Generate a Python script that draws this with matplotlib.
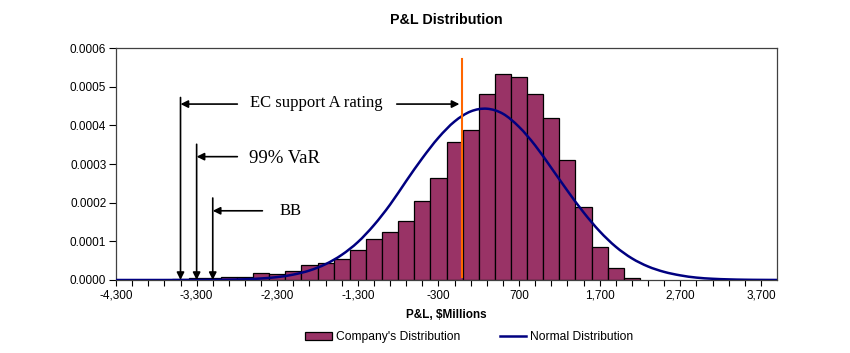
import numpy as np
import matplotlib
matplotlib.use('Agg')
import matplotlib.pyplot as plt
from matplotlib.ticker import FixedLocator, FormatStrFormatter
from matplotlib.patches import Patch, PathPatch
from matplotlib.path import Path
from matplotlib.lines import Line2D

# histogram bins (centre of each 200-wide bin), density in units of 1e-4
bin_centers = [-3500, -3300, -3100, -2900, -2700, -2500, -2300, -2100, -1900,
               -1700, -1500, -1300, -1100, -900, -700, -500, -300, -100,
               100, 300, 500, 700, 900, 1100, 1300, 1500, 1700, 1900, 2100]
company = [0.02, 0.05, 0.05, 0.08, 0.08, 0.17, 0.16, 0.23, 0.39,
           0.45, 0.54, 0.77, 1.05, 1.24, 1.53, 2.05, 2.63, 3.57,
           3.88, 4.80, 5.32, 5.25, 4.80, 4.19, 3.11, 1.90, 0.86, 0.30, 0.05]

# normal curve read at category points, units of 1e-4
normal_x = [-4300, -4100, -3900, -3700, -3500, -3300, -3100, -2900, -2700,
            -2500, -2300, -2100, -1900, -1700, -1500, -1300, -1100, -900,
            -700, -500, -300, -100, 100, 300, 500, 700, 900, 1100, 1300,
            1500, 1700, 1900, 2100, 2300, 2500, 2700, 2900, 3100, 3300,
            3500, 3700, 3900]
normal = [0, 0, 0, 0, 0.001, 0.002, 0.004, 0.009, 0.019,
          0.04, 0.075, 0.14, 0.245, 0.41, 0.65, 0.98, 1.42, 1.95,
          2.56, 3.15, 3.68, 4.10, 4.36, 4.43, 4.30, 3.96, 3.48, 2.90, 2.31,
          1.75, 1.26, 0.86, 0.56, 0.35, 0.21, 0.12, 0.062, 0.032, 0.016,
          0.007, 0.003, 0.001]

# markers: (x position, top of vertical line, label)
markers_x = [-3500, -3300, -3100]
markers_top = [4.72, 3.51, 2.12]
marker_labels = ['EC support A rating', '99% VaR', 'BB']
orange_x = -10

x_ticks = [-4300, -3300, -2300, -1300, -300, 700, 1700, 2700, 3700]
x_ticklabels = ['-4,300', '-3,300', '-2,300', '-1,300', '-300', '700',
                '1,700', '2,700', '3,700']

sc = 1e-4
fig = plt.figure(figsize=(8.5, 3.53), dpi=100)
ax = fig.add_axes([0.1365, 0.2068, 0.7776, 0.6572])

ax.bar(bin_centers, np.array(company) * sc, width=200, color='#993366',
       edgecolor='black', linewidth=0.9, zorder=2)

# smoothed line like Excel: cubic bezier segments through the read points
px = np.array(normal_x, dtype=float)
py = np.array(normal) * sc
verts = [(px[0], py[0])]
codes = [Path.MOVETO]
n = len(px)
for i in range(n - 1):
    p0 = i - 1 if i > 0 else i
    p3 = i + 2 if i + 2 < n else i + 1
    c1 = (px[i] + (px[i + 1] - px[p0]) / 6, py[i] + (py[i + 1] - py[p0]) / 6)
    c2 = (px[i + 1] - (px[p3] - px[i]) / 6, py[i + 1] - (py[p3] - py[i]) / 6)
    verts += [c1, c2, (px[i + 1], py[i + 1])]
    codes += [Path.CURVE4] * 3
ax.add_patch(PathPatch(Path(verts, codes), facecolor='none',
                       edgecolor='#000080', lw=1.8, zorder=3))

ax.plot([orange_x, orange_x], [0.07 * sc, 5.72 * sc], color='#FF6600',
        lw=1.5, zorder=4)

ax.set_xlim(-4300, 3900)
ax.set_ylim(0, 0.0006)
ax.xaxis.set_major_locator(FixedLocator(x_ticks))
ax.set_xticklabels(x_ticklabels)
ax.xaxis.set_minor_locator(FixedLocator(list(range(-4300, 3900, 200))))
ax.set_yticks([i * sc for i in range(7)])
ax.yaxis.set_major_formatter(FormatStrFormatter('%.4f'))
ax.tick_params(axis='both', which='both', direction='out', length=4,
               width=0.8, labelsize=8.5, pad=3)
ax.tick_params(axis='y', length=5, pad=2)
ax.tick_params(axis='x', which='major', pad=3)
for s in ax.spines.values():
    s.set_linewidth(0.9)
    s.set_color('#404040')

# vertical arrows down to the axis
for x, top in zip(markers_x, markers_top):
    ax.annotate('', xy=(x, 0.0), xytext=(x, top * sc),
                arrowprops=dict(arrowstyle='-|>', color='black', lw=1.2,
                                mutation_scale=11, shrinkA=0, shrinkB=0),
                zorder=5)

serif = 'Liberation Serif'
# EC support A rating
ax.annotate('', xy=(markers_x[0], 4.55 * sc), xytext=(-2795, 4.55 * sc),
            arrowprops=dict(arrowstyle='-|>', color='black', lw=1.2,
                            mutation_scale=11, shrinkA=0, shrinkB=0))
ax.annotate('', xy=(-40, 4.55 * sc), xytext=(-817, 4.55 * sc),
            arrowprops=dict(arrowstyle='-|>', color='black', lw=1.2,
                            mutation_scale=11, shrinkA=0, shrinkB=0))
ax.text(-1820, 4.57 * sc, marker_labels[0], family=serif, fontsize=12,
        ha='center', va='center')
# 99% VaR
ax.annotate('', xy=(markers_x[1], 3.19 * sc), xytext=(-2795, 3.19 * sc),
            arrowprops=dict(arrowstyle='-|>', color='black', lw=1.2,
                            mutation_scale=11, shrinkA=0, shrinkB=0))
ax.text(-2204, 3.13 * sc, marker_labels[1], family=serif, fontsize=13.5,
        ha='center', va='center')
# BB
ax.annotate('', xy=(markers_x[2], 1.79 * sc), xytext=(-2484, 1.79 * sc),
            arrowprops=dict(arrowstyle='-|>', color='black', lw=1.2,
                            mutation_scale=11, shrinkA=0, shrinkB=0))
ax.text(-2136, 1.78 * sc, marker_labels[2], family=serif, fontsize=12,
        ha='center', va='center')

fig.text(0.5253, 0.943, 'P&L Distribution', family='Liberation Sans',
         fontweight='bold', fontsize=10.3, ha='center', va='center')
ax.set_xlabel(r'P&L, \$Millions', family='Liberation Sans',
              fontweight='bold', fontsize=8.5, labelpad=5)
for lab in ax.get_xticklabels() + ax.get_yticklabels():
    lab.set_family('Liberation Sans')

handles = [Patch(facecolor='#993366', edgecolor='black', linewidth=0.9),
           Line2D([], [], color='#000080', lw=1.8)]
fig.legend(handles, ["Company's Distribution", 'Normal Distribution'],
           loc='center', bbox_to_anchor=(0.552, 0.045), ncol=2, frameon=False,
           prop={'family': 'Liberation Sans', 'size': 8.7}, handlelength=2.2,
           handleheight=0.7, handletextpad=0.3, columnspacing=3.3)

fig.savefig('out.png', dpi=100)
